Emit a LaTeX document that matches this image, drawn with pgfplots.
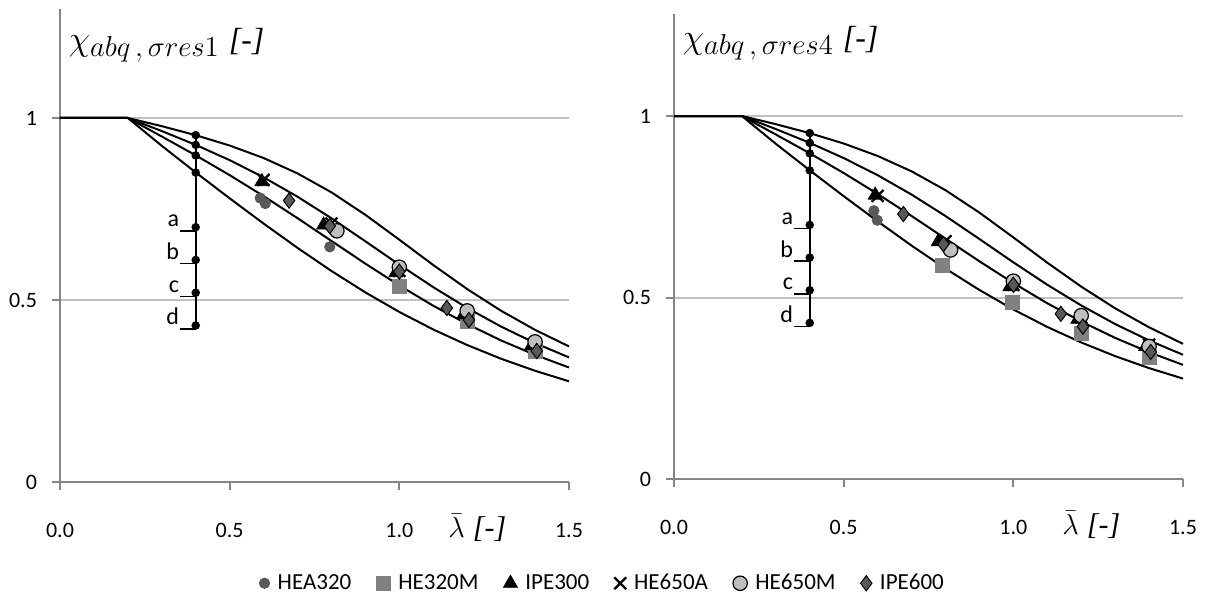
\documentclass[border=0pt]{standalone}
\usepackage{fontspec}
\setmainfont{Carlito}
\newfontfamily\cambria{Liberation Serif}
\usepackage{pgfplots}
\pgfplotsset{compat=1.18}
\usepackage{pgfplotstable}

\definecolor{axgray}{HTML}{868686}
\definecolor{gridgray}{HTML}{C0C0C0}
\definecolor{darkgr}{HTML}{595959}
\definecolor{midgr}{HTML}{808080}
\definecolor{lightgr}{HTML}{BFBFBF}

% buckling curves a, b, c, d
\pgfplotstableread{
lam a b c d
0.0 1 1 1 1
0.2 1 1 1 1
0.3 0.9775 0.9641 0.9491 0.9235
0.4 0.9528 0.9261 0.8973 0.8504
0.5 0.9243 0.8842 0.8430 0.7793
0.6 0.8900 0.8371 0.7854 0.7100
0.7 0.8477 0.7837 0.7247 0.6431
0.8 0.7957 0.7245 0.6622 0.5797
0.9 0.7339 0.6612 0.5998 0.5208
1.0 0.6656 0.5970 0.5399 0.4671
1.1 0.5960 0.5352 0.4842 0.4189
1.2 0.5300 0.4781 0.4338 0.3762
1.3 0.4703 0.4269 0.3888 0.3385
1.4 0.4179 0.3817 0.3492 0.3055
1.5 0.3724 0.3422 0.3145 0.2766
}\curves

\pgfplotsset{
  panel/.style={
    scale only axis, width=254.5pt,
    xmin=0, xmax=1.5, ymin=0,
    clip=false,
    axis lines=left,
    axis line style={axgray, line width=1pt, -},
    xtick={0,0.5,1,1.5}, xticklabels={0.0,0.5,1.0,1.5},
    ytick={0,0.5,1}, yticklabels={0,0.5,1},
    tick align=outside, major tick length=4pt,
    tick style={axgray, line width=1pt},
    ymajorgrids, grid style={gridgray, line width=1pt},
    tick label style={font=\fontsize{11}{13}\selectfont, black},
    xticklabel style={yshift=-13pt},
    yticklabel style={xshift=-4pt},
  },
  crv/.style={black, line width=1pt, no marks, forget plot},
  sHEA/.style={only marks, mark=*, mark size=2.6pt, color=darkgr},
  sHEM/.style={only marks, mark=square*, mark size=3.5pt, color=midgr},
  sIPE3/.style={only marks, mark=triangle*, mark size=4pt, color=black},
  sHEA6/.style={only marks, mark=x, mark size=4.2pt, color=black, mark options={line width=1.1pt}},
  sHEM6/.style={only marks, mark=*, mark size=3.6pt, draw=black, fill=lightgr, mark options={line width=0.6pt}},
  sIPE6/.style={only marks, mark=diamond*, mark size=3.8pt, draw=black, fill=darkgr, mark options={line width=0.5pt}},
}

\newcommand{\curvelabel}[3]{% y of dot, y of underline, letter
  \draw[black, line width=0.8pt] (axis cs:0.353,#2) -- (axis cs:0.4,#2);
  \node[anchor=south east, inner sep=0pt, font=\fontsize{12}{14}\selectfont] at (axis cs:0.352,#1) {#3};
}

\newcommand{\curvebundle}{%
  \addplot[crv] table[x=lam, y=a] {\curves};
  \addplot[crv] table[x=lam, y=b] {\curves};
  \addplot[crv] table[x=lam, y=c] {\curves};
  \addplot[crv] table[x=lam, y=d] {\curves};
  \addplot[black, line width=1pt, mark=*, mark size=1.6pt, forget plot] coordinates {
    (0.4,0.43) (0.4,0.52) (0.4,0.61) (0.4,0.70)
    (0.4,0.850) (0.4,0.897) (0.4,0.926) (0.4,0.953)};
  \curvelabel{0.70}{0.69}{a}
  \curvelabel{0.61}{0.60}{b}
  \curvelabel{0.52}{0.51}{c}
  \curvelabel{0.43}{0.42}{d}
}

\newcommand{\ytitle}[1]{%
  {\fontsize{19}{22}\selectfont$\chi$}%
  \raisebox{-3pt}{\fontsize{13.5}{16}\selectfont$abq\,{,}\,\sigma res#1$}%
  \hspace{5pt}{\fontsize{16}{19}\selectfont\cambria\itshape [-]}}
\newcommand{\xtitle}{%
  {\fontsize{15}{18}\selectfont$\bar{\lambda}$\hspace{4pt}\cambria\itshape [-]}}

\begin{document}
\begin{tikzpicture}
\useasboundingbox (0,0) rectangle (603.5pt,299pt);

% left panel
\begin{axis}[panel, at={(30pt,58pt)}, anchor=south west,
    ymax=1.3, height=236.6pt,
    legend columns=6,
    legend style={at={(1.067,-0.214)}, anchor=center, draw=none, fill=none,
      font=\fontsize{11.5}{13}\selectfont,
      /tikz/every odd column/.append style={column sep=2.5pt},
      /tikz/every even column/.append style={column sep=11pt},
      nodes={inner sep=1.5pt}},
  ]
\curvebundle
\addplot[sHEA] coordinates {(0.59,0.78) (0.605,0.765) (0.795,0.646)};
\addlegendentry{HEA320}
\addplot[sHEM] coordinates {(1.0,0.537) (1.2,0.44) (1.4,0.36)};
\addlegendentry{HE320M}
\addplot[sIPE3] coordinates {(0.595,0.825) (0.777,0.706) (0.99,0.575) (1.19,0.46) (1.39,0.375)};
\addlegendentry{IPE300}
\addplot[sHEA6] coordinates {(0.60,0.83) (0.80,0.71) (1.0,0.58) (1.2,0.465) (1.4,0.38)};
\addlegendentry{HE650A}
\addplot[sHEM6] coordinates {(0.816,0.69) (1.0,0.59) (1.2,0.47) (1.4,0.385)};
\addlegendentry{HE650M}
\addplot[sIPE6] coordinates {(0.675,0.773) (0.795,0.703) (1.0,0.578) (1.14,0.478) (1.205,0.445) (1.405,0.36)};
\addlegendentry{IPE600}
\node[anchor=west, inner sep=0pt] at (axis cs:0.025,1.2) {\ytitle{1}};
\node[inner sep=0pt] at (axis cs:1.23,0) [yshift=-23pt] {\xtitle};
\end{axis}

% right panel
\begin{axis}[panel, at={(337pt,59.5pt)}, anchor=south west,
    ymax=1.28, height=232.3pt]
\curvebundle
\addplot[sHEA] coordinates {(0.589,0.739) (0.599,0.713)};
\addplot[sHEM] coordinates {(0.79,0.588) (0.996,0.486) (1.2,0.40) (1.4,0.335)};
\addplot[sIPE3] coordinates {(0.593,0.782) (0.779,0.654) (0.99,0.53) (1.19,0.44) (1.39,0.365)};
\addplot[sHEA6] coordinates {(0.60,0.78) (0.80,0.655) (1.0,0.535) (1.2,0.445) (1.4,0.37)};
\addplot[sHEM6] coordinates {(0.815,0.631) (1.0,0.545) (1.2,0.45) (1.4,0.365)};
\addplot[sIPE6] coordinates {(0.676,0.730) (0.794,0.647) (1.0,0.535) (1.14,0.455) (1.205,0.42) (1.405,0.35)};
\node[anchor=west, inner sep=0pt] at (axis cs:0.025,1.2) {\ytitle{4}};
\node[inner sep=0pt] at (axis cs:1.23,0) [yshift=-23pt] {\xtitle};
\end{axis}
\end{tikzpicture}
\end{document}
